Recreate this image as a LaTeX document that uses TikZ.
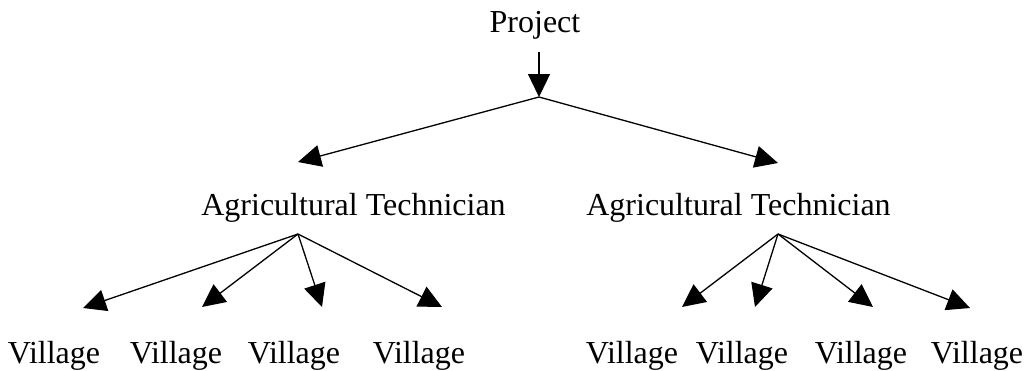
\documentclass[tikz,border=0pt]{standalone}
\usepackage{fontspec}
\setmainfont{Liberation Serif}
\usetikzlibrary{arrows.meta}
\begin{document}
\begin{tikzpicture}[x=1pt,y=-1pt,line width=1.3pt,>={Triangle[length=23pt,width=22pt]}]
\tikzstyle{every node}+=[inner sep=0pt,anchor=base,font=\fontsize{32}{38}\selectfont]
\useasboundingbox (0,0) rectangle (1028,370);
\node (proj) at (535,32) {Project};
\node (techL) at (353.5,215) {Agricultural Technician};
\node (techR) at (738.5,215) {Agricultural Technician};
\node (vL1) at (54,363) {Village};
\node (vL2) at (176,363) {Village};
\node (vL3) at (294,363) {Village};
\node (vL4) at (419,363) {Village};
\node (vR1) at (632,363) {Village};
\node (vR2) at (742,363) {Village};
\node (vR3) at (861,363) {Village};
\node (vR4) at (977,363) {Village};
% hubs and arrow ends
\coordinate (projOut) at (539,52);
\coordinate (projHub) at (539,97);
\coordinate (techLIn) at (298,162);
\coordinate (techRIn) at (778,163);
\coordinate (techLHub) at (298,234);
\coordinate (techRHub) at (778,234);
\coordinate (vL1In) at (83,308);
\coordinate (vL2In) at (202,307);
\coordinate (vL3In) at (322,307);
\coordinate (vL4In) at (442,307);
\coordinate (vR1In) at (682,307);
\coordinate (vR2In) at (755,307);
\coordinate (vR3In) at (873,307);
\coordinate (vR4In) at (970,308);
% project to technicians
\draw [->] (projOut) -- (projHub);
\draw [->] (projHub) -- (techLIn);
\draw [->] (projHub) -- (techRIn);
% technicians to villages
\draw [->] (techLHub) -- (vL1In);
\draw [->] (techLHub) -- (vL2In);
\draw [->] (techLHub) -- (vL3In);
\draw [->] (techLHub) -- (vL4In);
\draw [->] (techRHub) -- (vR1In);
\draw [->] (techRHub) -- (vR2In);
\draw [->] (techRHub) -- (vR3In);
\draw [->] (techRHub) -- (vR4In);
\end{tikzpicture}
\end{document}
